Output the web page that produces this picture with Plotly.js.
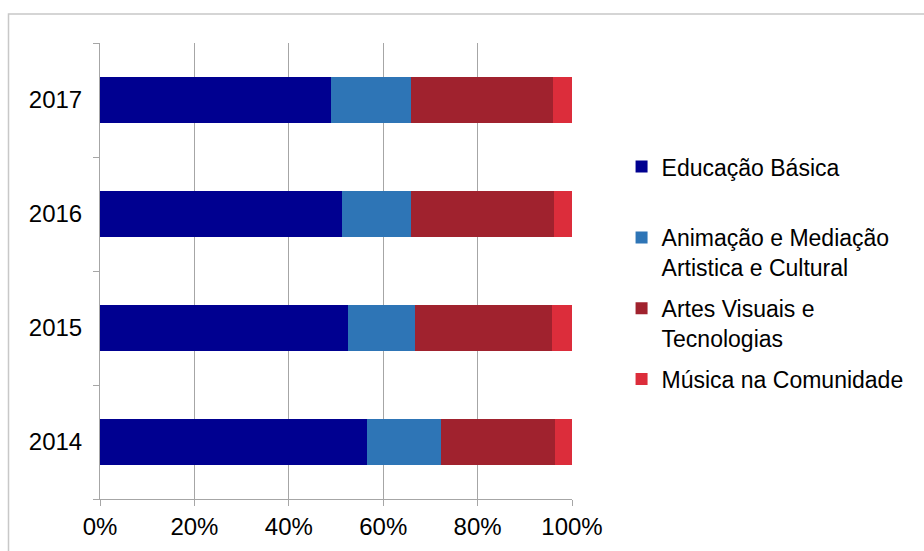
<!DOCTYPE html>
<html>
<head>
<meta charset="utf-8">
<script src="https://cdn.plot.ly/plotly-3.0.1.min.js"></script>
<style>
  html, body { margin: 0; padding: 0; background: #ffffff; }
  #chart { width: 924px; height: 551px; }
</style>
</head>
<body>
<div id="chart"></div>
<script>
// Share of students per course, by academic year (stacked to 100%)
const years = ['2014', '2015', '2016', '2017'];
const educacaoBasica = [56.5, 52.6, 51.2, 48.9];
const animacaoMediacao = [15.8, 14.1, 14.6, 16.9];
const artesVisuais = [24.0, 29.1, 30.4, 30.2];
const musicaComunidade = [3.7, 4.2, 3.8, 4.0];

const seriesNames = [
  'Educação Básica<br> ',
  'Animação e Mediação<br>Artistica e Cultural',
  'Artes Visuais e<br>Tecnologias',
  'Música na Comunidade'
];
const seriesValues = [educacaoBasica, animacaoMediacao, artesVisuais, musicaComunidade];
const seriesColors = ['#000090', '#2E75B6', '#A0222E', '#DC2D3B'];

const tickVals = [0, 20, 40, 60, 80, 100];
const tickText = ['0%', '20%', '40%', '60%', '80%', '100%'];

const traces = seriesValues.map((vals, i) => ({
  type: 'bar',
  orientation: 'h',
  name: seriesNames[i],
  y: years,
  x: vals,
  legendgroup: 'g' + i,
  marker: { color: seriesColors[i], line: { width: 0 } },
  hoverinfo: 'x+y+name'
}));

const FONT = 'Liberation Sans, Arial, sans-serif';

const layout = {
  width: 924,
  height: 551,
  margin: { l: 100, r: 352, t: 43, b: 52 },
  paper_bgcolor: '#ffffff',
  plot_bgcolor: '#ffffff',
  barmode: 'stack',
  bargap: 0.59,
  font: { family: FONT, size: 23, color: '#000000' },
  showlegend: true,
  legend: {
    x: 1.105, xanchor: 'left',
    y: 0.776, yanchor: 'top',
    valign: 'top',
    traceorder: 'grouped',
    tracegroupgap: 8,
    font: { family: FONT, size: 23, color: '#000000' },
    bgcolor: 'rgba(0,0,0,0)'
  },
  xaxis: {
    range: [0, 100],
    tickvals: tickVals,
    ticktext: tickText,
    showgrid: true,
    gridcolor: '#a6a6a6',
    gridwidth: 1,
    zeroline: false,
    showline: true,
    linecolor: '#a6a6a6',
    linewidth: 1,
    ticks: 'outside',
    ticklen: 6,
    tickcolor: '#a6a6a6',
    tickfont: { family: FONT, size: 24, color: '#000000' },
    fixedrange: true
  },
  yaxis: {
    type: 'category',
    categoryorder: 'array',
    categoryarray: years,
    showgrid: false,
    zeroline: false,
    showline: true,
    linecolor: '#a6a6a6',
    linewidth: 1,
    ticks: 'outside',
    tickson: 'boundaries',
    ticklen: 6,
    tickcolor: '#a6a6a6',
    ticklabelstandoff: 12,
    tickfont: { family: FONT, size: 24, color: '#000000' },
    fixedrange: true
  },
  shapes: [{
    type: 'rect', xref: 'paper', yref: 'paper',
    x0: (8.5 - 100) / 472, x1: (940 - 100) / 472,
    y0: (499 - 570) / 456, y1: (499 - 14) / 456,
    line: { color: '#c8c8c8', width: 1.5 },
    fillcolor: 'rgba(0,0,0,0)',
    layer: 'below'
  }]
};

Plotly.newPlot('chart', traces, layout, { displayModeBar: false, staticPlot: true });
</script>
</body>
</html>
